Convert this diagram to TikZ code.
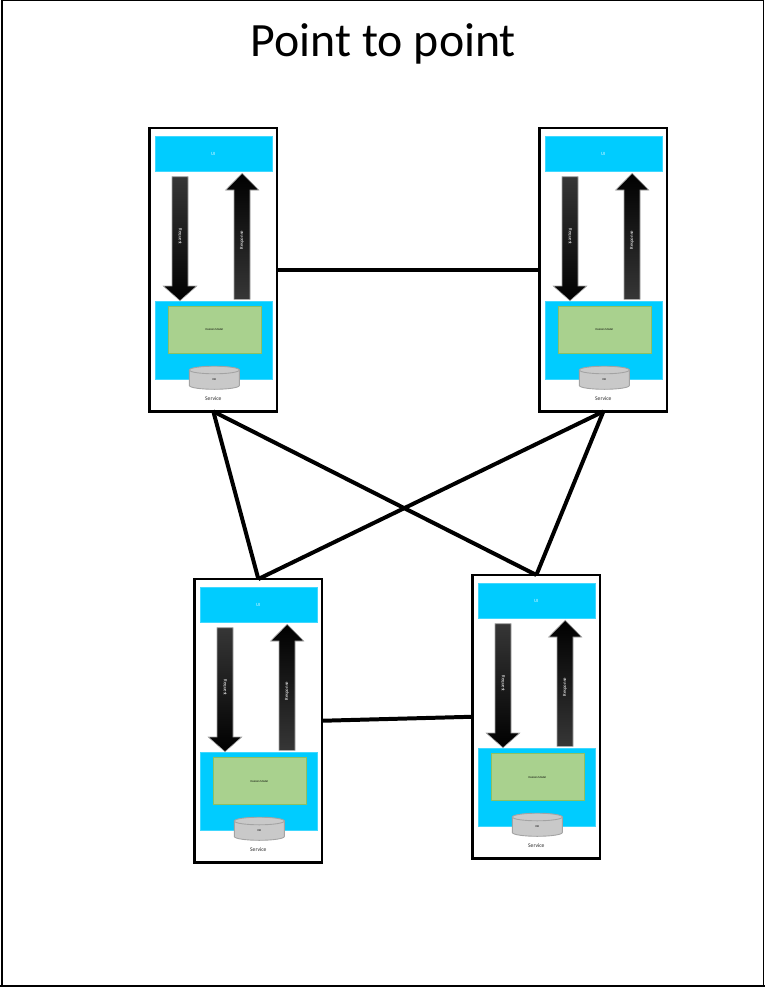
\documentclass[tikz,border=0pt]{standalone}
\usepackage{fontspec}
\setmainfont{Carlito}
\definecolor{skyfill}{HTML}{00CCFF}
\definecolor{skyedge}{HTML}{40D8FF}
\definecolor{greenfill}{HTML}{A9D18E}
\definecolor{greenedge}{HTML}{8CC063}
\definecolor{dbfill}{HTML}{C9C9C9}
\definecolor{dbedge}{HTML}{A3A3A3}
\definecolor{darkgrad}{HTML}{363636}
\tikzset{
  servicebox/.style={draw=black,line width=2.8pt,fill=white,minimum width=127.3bp,minimum height=283.5bp,inner sep=0pt,outer sep=0pt},
  link/.style={draw=black,line width=4pt},
  skyrect/.style={fill=skyfill,draw=skyedge,line width=0.4pt},
  modelrect/.style={fill=greenfill,draw=greenedge,line width=1pt},
  dbshape/.style={fill=dbfill,draw=dbedge,line width=0.9pt},
  reqarrow/.style={draw=black!35,line width=0.6pt,top color=darkgrad,middle color=black,bottom color=black},
  resparrow/.style={draw=black!35,line width=0.6pt,top color=black,middle color=black,bottom color=darkgrad},
  tinylabel/.style={inner sep=0pt,font=\fontsize{4.8}{5}\selectfont},
  framepart/.style={draw=black,line width=2pt},
}
\newcommand{\svcunit}[3]{%
  \node[servicebox] (#1) at (#2+63.65,#3+141.75) {};
  \begin{scope}[shift={(#2,#3)}]
    \draw[skyrect] (5.3,8.2) rectangle (122,43.5);
    \node[tinylabel,text=white!85!skyfill] (#1ui) at (63.6,25.8) {UI};
    \draw[skyrect] (5.3,172.9) rectangle (122,251.1);
    \draw[modelrect] (18.3,178) rectangle (111.6,225.3);
    \node[inner sep=0pt,font=\fontsize{2.9}{3}\selectfont] (#1dm) at (64.6,202) {Domain Model};
    \draw[dbshape] (39.6,242) -- (39.6,257.5) arc[start angle=180,end angle=0,x radius=25,y radius=3.8] -- (89.6,242) -- cycle;
    \draw[dbshape] (64.6,242) ellipse[x radius=25,y radius=3.8];
    \node[inner sep=0pt,font=\fontsize{2.9}{3}\selectfont] (#1db) at (64.6,252) {DB};
    \node[inner sep=0pt,font=\fontsize{5.6}{6}\selectfont,text=black!85] (#1svc) at (63.6,271) {Service};
    \shadedraw[reqarrow] (22.3,48.7) -- (38.3,48.7) -- (38.3,158) -- (47,158) -- (30.3,172.7) -- (13.6,158) -- (22.3,158) -- cycle;
    \shadedraw[resparrow] (84.3,171.3) -- (100.3,171.3) -- (100.3,62) -- (109,62) -- (92.5,45.3) -- (76,62) -- (84.3,62) -- cycle;
    \node[tinylabel,text=white,rotate=-90] (#1req) at (30.3,108.7) {Request};
    \node[tinylabel,text=white,rotate=90] (#1resp) at (92.3,112) {Response};
  \end{scope}
}
\begin{document}
\begin{tikzpicture}[x=1bp,y=-1bp]
  \useasboundingbox (0,0) rectangle (765,987);
  \fill[white] (0,0) rectangle (765,987);
  \draw[black,line width=1.1pt] (2,0.5) rectangle (763.8,986);
  \draw[framepart] (2,0) -- (2,987) (0,986) -- (765,986);
  \node[inner sep=0pt,font=\fontsize{48}{54}\selectfont] (title) at (383.5,44) {Point to point};
  \svcunit{a}{149.7}{128}
  \svcunit{b}{539.7}{128}
  \svcunit{c}{194.7}{579}
  \svcunit{d}{472.7}{575}
  \draw[link] (a.east) -- (b.west);
  \draw[link] (c.east) -- (d.west);
  \draw[link] (a.south) -- (c.north);
  \draw[link] (a.south) -- (d.north);
  \draw[link] (b.south) -- (c.north);
  \draw[link] (b.south) -- (d.north);
\end{tikzpicture}
\end{document}
